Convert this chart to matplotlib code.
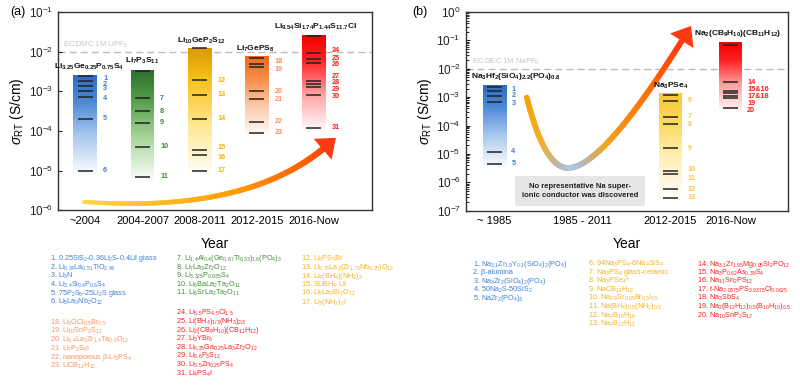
import re
import numpy as np
import matplotlib
matplotlib.use("Agg")
import matplotlib.pyplot as plt
from matplotlib.colors import LinearSegmentedColormap
from matplotlib.collections import LineCollection

plt.rcParams['font.family'] = ['Liberation Sans', 'DejaVu Sans']
plt.rcParams['mathtext.fontset'] = 'custom'
plt.rcParams['mathtext.rm'] = 'Liberation Sans'
plt.rcParams['mathtext.it'] = 'Liberation Sans:italic'
plt.rcParams['mathtext.bf'] = 'Liberation Sans:bold'

# ---------------- data, panel (a) Li conductors ----------------
years_a = ['~2004', '2004-2007', '2008-2011', '2012-2015', '2016-Now']
tops_a = [2.5e-3, 3.5e-3, 1.25e-2, 7.6e-3, 2.6e-2]
bottoms_a = [7e-6, 5e-6, 7e-6, 6.5e-5, 9e-5]
titles_a = ['Li_{3.25}Ge_{0.25}P_{0.75}S_{4}', 'Li_{7}P_{3}S_{11}', 'Li_{10}GeP_{2}S_{12}',
            'Li_{7}GePS_{8}', 'Li_{9.54}Si_{1.74}P_{1.44}S_{11.7}Cl']
lines_a = [[2.37e-3, 1.86e-3, 1.38e-3, 1.0e-3, 7.1e-4, 2e-4, 1e-5],
           [3.3e-3, 6.6e-4, 3.1e-4, 1.6e-4, 4e-5, 7e-6],
           [1.2e-2, 1.9e-3, 8.2e-4, 2e-4, 3.2e-5, 2.4e-5, 1e-5],
           [7.0e-3, 5.0e-3, 4.1e-3, 1.0e-3, 6.5e-4, 1.7e-4, 9e-5],
           [2.5e-2, 9e-3, 6.6e-3, 5.2e-3, 1.8e-3, 1.5e-3, 1.25e-3, 8e-4, 1.2e-4]]
nums_a = [['1', '2', '3', '4', '5', '6'],
          ['7', '8', '9', '10', '11'],
          ['12', '13', '14', '15', '16', '17'],
          ['18', '19', '20', '21', '22', '23'],
          ['24', '25', '26', '27', '28', '29', '30', '31']]
num_y_a = [[2.05e-3, 1.5e-3, 1.15e-3, 6.4e-4, 2e-4, 1e-5],
           [6.6e-4, 3.1e-4, 1.6e-4, 4e-5, 7e-6],
           [1.9e-3, 8.2e-4, 2e-4, 3.7e-5, 2.1e-5, 1e-5],
           [5.6e-3, 3.6e-3, 1.0e-3, 6.3e-4, 1.7e-4, 9e-5],
           [1.05e-2, 6.9e-3, 4.6e-3, 2.35e-3, 1.62e-3, 1.12e-3, 7.2e-4, 1.2e-4]]

# ---------------- data, panel (b) Na conductors ----------------
years_b = ['~ 1985', '1985 - 2011', '2012-2015', '2016-Now']
pos_b = [0, 1, 2, 2.68]
bar_idx_b = [0, 2, 3]
tops_b = [2.6e-3, 1.35e-3, 8.5e-2]
bottoms_b = [3e-6, 2.2e-7, 2.8e-4]
titles_b = ['Na_{3}Hf_{2}(SiO_{4})_{2.2}(PO_{4})_{0.8}', 'Na_{3}PSe_{4}',
            'Na_{2}(CB_{9}H_{10})(CB_{11}H_{12})']
lines_b = [[2.2e-3, 1.66e-3, 1.1e-3, 6.6e-4, 1.2e-5, 4.5e-6],
           [1.15e-3, 7.4e-4, 2e-4, 1.1e-4, 1.6e-5, 2.6e-6, 2.0e-6, 5.6e-7, 2.8e-7],
           [6.8e-2, 3.4e-3, 1.66e-3, 1.35e-3, 1.1e-3, 9.5e-4, 4e-4]]
nums_b = [['1', '2', '3', '4', '5'],
          ['6', '7', '8', '9', '10', '11', '12', '13'],
          ['14', '15&16', '17&18', '19', '20']]
num_y_b = [[1.86e-3, 1.1e-3, 6e-4, 1.2e-5, 4.5e-6],
           [7.4e-4, 2e-4, 1.1e-4, 1.6e-5, 2.9e-6, 1.4e-6, 5.6e-7, 2.8e-7],
           [3.4e-3, 1.8e-3, 1.05e-3, 6.2e-4, 3.5e-4]]

# ---------------- legend texts ----------------
leg_a_blue = ['1. 0.25SiS_{2}-0.36Li_{2}S-0.4LiI glass', '2. Li_{0.34}La_{0.51}TiO_{2.94}', '3. Li_{3}N',
              '4. Li_{3.4}Si_{0.4}P_{0.6}S_{4}', '5. 75P_{2}S_{5}-25Li_{2}S glass', '6. Li_{5}La_{3}Nb_{2}O_{12}']
leg_a_green = ['7. Li_{1.4}Al_{0.4}(Ge_{0.67}Ti_{0.33})_{1.6}(PO_{4})_{3}', '8. Li_{7}La_{3}Zr_{2}O_{12}',
               '9. Li_{3.325}P_{0.935}S_{4}', '10. Li_{6}BaLa_{2}Ta_{2}O_{11}', '11. Li_{6}SrLa_{2}Ta_{2}O_{11}']
leg_a_gold = ['12. Li_{6}PS_{5}Br', '13. Li_{6.75}La_{3}(Zr_{1.75}Nb_{0.25})O_{12}', '14. Li_{4}(BH_{4})(NH_{2})_{3}',
              '15. 3LiBH_{4}-LiI', '16. Li_{5}La_{3}Bi_{2}O_{12}', '17. Li_{3}(NH_{2})_{2}I']
leg_a_orange = ['18. Li_{3}OCl_{0.5}Br_{0.5}', '19. Li_{10}SnP_{2}S_{12}', '20. Li_{6.4}La_{3}Zr_{1.4}Ta_{0.6}O_{12}',
                '21. Li_{7}P_{2}S_{8}I', '22. nanoporous β-Li_{3}PS_{4}', '23. LiCB_{11}H_{12}']
leg_a_red = ['24. Li_{5.5}PS_{4.5}Cl_{1.5}', '25. Li(BH_{4})_{1/3}(NH_{3})_{2/3}', '26. Li_{2}(CB_{9}H_{10})(CB_{11}H_{12})',
             '27. Li_{3}YBr_{6}', '28. Li_{6.25}Ga_{0.25}La_{3}Zr_{2}O_{12}', '29. Li_{6.6}P_{3}S_{12}',
             '30. Li_{3.5}Zn_{0.25}PS_{4}', '31. Li_{4}PS_{4}I']
leg_b_blue = ['1. Na_{3.1}Zr_{1.9}Y_{0.1}(SiO_{4})_{2}(PO_{4})', '2. β-alumina', '3. Na_{3}Zr_{2}(SiO_{4})_{2}(PO_{4})',
              '4. 50Na_{2}S-50SiS_{2}', '5. NaZr_{2}(PO_{4})_{3}']
leg_b_gold = ['6. 94Na_{3}PS_{4}-6Na_{4}SiS_{4}', '7. Na_{3}PS_{4} glass-ceramic', '8. Na_{3}PSe_{4}*',
              '9. NaCB_{11}H_{12}', '10. Na_{2.9}Sr_{0.05}Br_{0.5}I_{0.5}', '11. Na(BH_{4})_{0.5}(NH_{2})_{0.5}',
              '12. Na_{2}B_{10}H_{10}', '13. Na_{2}B_{12}H_{12}']
leg_b_red = ['14. Na_{3.1}Zr_{1.95}Mg_{0.05}Si_{2}PO_{12}', '15. Na_{3}P_{0.62}As_{0.38}S_{4}', '16. Na_{11}Sn_{2}PS_{12}',
             '17. t-Na_{2.9375}PS_{3.9375}Cl_{0.0625}', '18. Na_{3}SbS_{4}',
             '19. Na_{2}(B_{12}H_{12})_{0.5}(B_{10}H_{10})_{0.5}', '20. Na_{10}SnP_{2}S_{12}']

# colours
BLUE, GREEN, GOLD, ORANGE, RED = '#3d7fd9', '#3a8f2f', '#f5b21a', '#f7935a', '#ff1a1a'
bar_cols_a = [['#ffffff', '#a8c8ee', '#4a88d6', '#2f6cbf'],
              ['#ffffff', '#a6d69a', '#4f9c45', '#2d6e2c'],
              ['#ffffff', '#ffe690', '#f8c21c', '#d99a00'],
              ['#ffffff', '#fcc8a8', '#f78a45', '#e96a1e'],
              ['#ffffff', '#ffa0a0', '#ff2020', '#f20000']]
num_cols_a = [BLUE, GREEN, GOLD, ORANGE, RED]
bar_cols_b = [bar_cols_a[0], ['#ffffff', '#fff0b8', '#fcd75a', '#f8c632'], bar_cols_a[4]]
num_cols_b = [BLUE, '#f8c84a', RED]


def chem(s, bold=False):
    f = r'\mathbf' if bold else r'\mathrm'
    return re.sub(r'_\{([^}]*)\}', lambda m: '$_{%s{%s}}$' % (f, m.group(1)), s)


def grad_bar(ax, x, w, bottom, top, cols):
    cmap = LinearSegmentedColormap.from_list('g', list(zip([0, 0.4, 0.75, 1], cols)))
    ys = np.geomspace(bottom, top, 121)
    c = np.linspace(0, 1, 120).reshape(-1, 1)
    ax.pcolormesh([x - w / 2, x + w / 2], ys, c, cmap=cmap, vmin=0, vmax=1,
                  shading='flat', rasterized=True, zorder=1)


def quad(p0, p1, p2, n=150):
    t = np.linspace(0, 1, n)[:, None]
    p0, p1, p2 = map(np.array, (p0, p1, p2))
    return (1 - t) ** 2 * p0 + 2 * (1 - t) * t * p1 + t ** 2 * p2


def grad_line(ax, xy, stops, colors, lws):
    cmap = LinearSegmentedColormap.from_list('c', list(zip(stops, colors)))
    seg = np.stack([xy[:-1], xy[1:]], axis=1)
    s = np.linspace(0, 1, len(seg))
    lc = LineCollection(seg, colors=cmap(s), linewidths=np.linspace(lws[0], lws[1], len(seg)),
                        transform=ax.transAxes, capstyle='round', zorder=2)
    ax.add_collection(lc)


def style_axis(ax):
    for sp in ax.spines.values():
        sp.set_color('#333333')
        sp.set_linewidth(1.0)
    ax.tick_params(axis='y', which='major', direction='in', length=3, labelsize=8.5, colors='#222222')
    ax.tick_params(axis='x', length=0, labelsize=8, pad=4)
    ax.set_xlabel('Year', fontsize=10, labelpad=8)
    ax.set_ylabel(r'$\sigma_{\mathrm{RT}}$ (S/cm)', fontsize=10, labelpad=2)


def draw_bars(ax, xs, w, tops, bottoms, titles, lines, nums, num_y, bcols, ncols, lab_dx, title_dx, title_f):
    for i, x in enumerate(xs):
        grad_bar(ax, x, w, bottoms[i], tops[i], bcols[i])
        ax.hlines(lines[i], x - w * 0.32, x + w * 0.32, colors='#222222', lw=1.1, zorder=3)
        for n, yv in zip(nums[i], num_y[i]):
            ax.text(x + lab_dx, yv, n, color=ncols[i], fontsize=5.2, fontweight='bold',
                    va='center', ha='left')
        ax.text(x + title_dx[i], tops[i] * title_f[i], chem(titles[i], True), fontsize=6,
                fontweight='bold', ha='center', va='bottom', color='#111111')


fig = plt.figure(figsize=(8, 3.87), dpi=100)

# ---------------- panel (a) ----------------
ax1 = fig.add_axes([0.0725, 0.457, 0.3925, 0.512])
ax1.set_yscale('log')
ax1.set_ylim(1e-6, 1e-1)
ax1.set_xlim(-0.48, 5.02)
ax1.set_xticks(range(len(years_a)))
ax1.set_xticklabels(years_a)
ax1.yaxis.set_minor_locator(matplotlib.ticker.NullLocator())
style_axis(ax1)
ax1.axhline(1e-2, color='#bdbdbd', lw=1, ls=(0, (5, 3)), zorder=0)
ax1.text(-0.39, 1.12e-2, chem('EC:DMC 1M LiPF_{6}'), color='#c4c4c4', fontsize=5.5, va='bottom')
draw_bars(ax1, range(5), 0.42, tops_a, bottoms_a, titles_a, lines_a, nums_a, num_y_a,
          bar_cols_a, num_cols_a, 0.31, [0.07, 0, 0.03, -0.02, 0.03], [1.22, 1.22, 1.12, 1.12, 1.22])

arr_a = quad((0.083, 0.042), (0.62, -0.02), (0.87, 0.345))
grad_line(ax1, arr_a, [0, 0.5, 0.85, 1], ['#ffd54a', '#ffa000', '#ff6000', '#ff3a10'], (3.0, 4.5))
ax1.annotate('', xy=(0.885, 0.365), xytext=tuple(arr_a[-8]), xycoords='axes fraction',
             arrowprops=dict(arrowstyle='-|>,head_length=0.7,head_width=0.55', mutation_scale=18,
                             color='#ff3a10', lw=0, shrinkA=0, shrinkB=0))

# ---------------- panel (b) ----------------
ax2 = fig.add_axes([0.582, 0.4556, 0.4025, 0.5134])
ax2.set_yscale('log')
ax2.set_ylim(1e-7, 1e0)
ax2.set_xlim(-0.33, 3.33)
ax2.set_xticks(pos_b)
ax2.set_xticklabels(years_b)
style_axis(ax2)
ax2.tick_params(axis='y', which='minor', direction='in', length=1.8)
ax2.axhline(1e-2, color='#bdbdbd', lw=1, ls=(0, (5, 3)), zorder=0)
ax2.text(-0.26, 1.15e-2, chem('EC:DEC 1M NaPF_{6}'), color='#c4c4c4', fontsize=5.5, va='bottom')
draw_bars(ax2, [pos_b[k] for k in bar_idx_b], 0.27, tops_b, bottoms_b, titles_b, lines_b, nums_b, num_y_b,
          bar_cols_b, num_cols_b, 0.19, [0.24, 0, 0.08], [1.3, 1.2, 1.35])

p1 = quad((0.19, 0.57), (0.245, 0.215), (0.318, 0.215), 80)
p2 = quad((0.318, 0.215), (0.43, 0.215), (0.70, 0.93), 200)
arr_b = np.vstack([p1, p2[1:]])
grad_line(ax2, arr_b[:-10], [0, 0.12, 0.25, 0.33, 0.45, 0.6, 0.85, 1],
          ['#f5a300', '#f2b030', '#b8b8b8', '#b0cae6', '#b8b8b8', '#f0a820', '#ff7000', '#ff3a10'], (4, 4))
ax2.annotate('', xy=(0.70, 0.93), xytext=tuple(arr_b[-12]), xycoords='axes fraction',
             arrowprops=dict(arrowstyle='-|>,head_length=0.7,head_width=0.55', mutation_scale=18,
                             color='#ff3a10', lw=0, shrinkA=0, shrinkB=0))
ax2.text(0.97, 5e-7, 'No representative Na super-\nionic conductor was discovered', fontsize=5.5,
         fontweight='bold', ha='center', va='center', color='#222222', linespacing=1.5,
         bbox=dict(boxstyle='square,pad=0.9', facecolor='#e6e6e6', edgecolor='none'))

# ---------------- panel labels ----------------
fig.text(10 / 800, 1 - 12 / 387, '(a)', fontsize=9, va='center')
fig.text(412 / 800, 1 - 12 / 387, '(b)', fontsize=9, va='center')

# ---------------- compound lists ----------------
cols = [(leg_a_blue, BLUE, 50, 259), (leg_a_green, GREEN, 176, 259), (leg_a_gold, GOLD, 301, 259),
        (leg_a_orange, ORANGE, 50, 322.7), (leg_a_red, RED, 176, 313.3),
        (leg_b_blue, BLUE, 472.7, 264), (leg_b_gold, GOLD, 587.7, 264), (leg_b_red, RED, 696.7, 264)]
for items, c, x0, y0 in cols:
    for k, it in enumerate(items):
        fig.text(x0 / 800, 1 - (y0 + 8.6 * k) / 387, chem(it), color=c, fontsize=5.2, va='center')

fig.savefig('out.png', dpi=100)
